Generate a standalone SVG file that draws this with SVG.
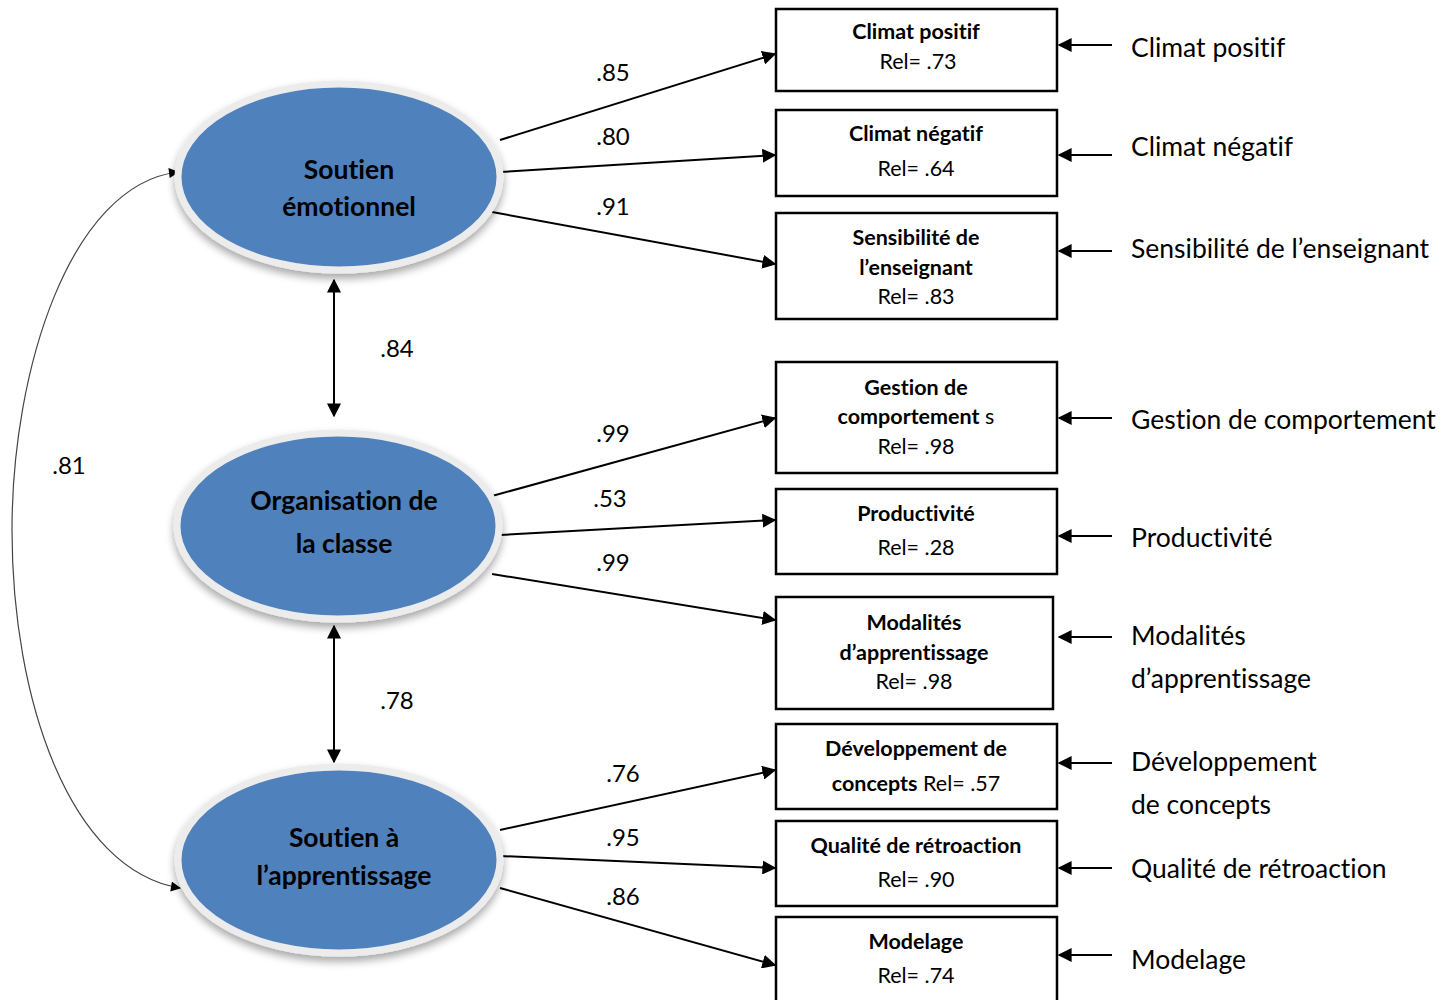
<svg xmlns="http://www.w3.org/2000/svg" width="1451" height="1000" viewBox="0 0 1451 1000">
<defs>
<style>
text{font-family:Lato,"Open Sans","Liberation Sans",sans-serif;fill:#000;font-variant-ligatures:none}
.lat{fill:#4F81BD;stroke:#ececec;stroke-width:7}
.lt{font-size:26.5px;font-weight:bold;text-anchor:middle}
.box{fill:#fff;stroke:#000;stroke-width:2.5}
.bt{font-size:21.5px;font-weight:bold;text-anchor:middle}
.br{font-weight:normal}
.coef{font-size:24px}
.side{font-size:26.5px}
.ln{stroke:#000;stroke-width:2;fill:none}
.cv{stroke:#444;stroke-width:1.2;fill:none}
</style>
<marker id="ah" viewBox="0 0 10 10" refX="9" refY="5" markerWidth="11" markerHeight="10" markerUnits="userSpaceOnUse" orient="auto-start-reverse"><path d="M0,0 L10,5 L0,10 z" fill="#000"/></marker>
<marker id="ahb" viewBox="0 0 10 10" refX="9" refY="5" markerWidth="14" markerHeight="14" markerUnits="userSpaceOnUse" orient="auto-start-reverse"><path d="M0,0 L10,5 L0,10 z" fill="#000"/></marker>
<filter id="sh" x="-20%" y="-20%" width="140%" height="150%"><feGaussianBlur in="SourceAlpha" stdDeviation="4"/><feOffset dy="5" result="b"/><feComponentTransfer><feFuncA type="linear" slope="0.35"/></feComponentTransfer><feMerge><feMergeNode/><feMergeNode in="SourceGraphic"/></feMerge></filter>
</defs>
<rect width="1451" height="1000" fill="#fff"/>

<g id="connectors">
<line class="ln" x1="500" y1="140" x2="775" y2="54" marker-end="url(#ahb)"/>
<line class="ln" x1="500" y1="172" x2="775" y2="155" marker-end="url(#ahb)"/>
<line class="ln" x1="492" y1="212" x2="775" y2="264" marker-end="url(#ahb)"/>
<line class="ln" x1="492" y1="496" x2="775" y2="418" marker-end="url(#ahb)"/>
<line class="ln" x1="500" y1="535" x2="775" y2="520" marker-end="url(#ahb)"/>
<line class="ln" x1="492" y1="574" x2="775" y2="620" marker-end="url(#ahb)"/>
<line class="ln" x1="500" y1="830" x2="775" y2="770" marker-end="url(#ahb)"/>
<line class="ln" x1="500" y1="856" x2="775" y2="868" marker-end="url(#ahb)"/>
<line class="ln" x1="500" y1="888" x2="775" y2="965" marker-end="url(#ahb)"/>
<line class="ln" x1="334" y1="280" x2="334" y2="416" marker-start="url(#ahb)" marker-end="url(#ahb)"/>
<line class="ln" x1="334" y1="626" x2="334" y2="762" marker-start="url(#ahb)" marker-end="url(#ahb)"/>
<path class="cv" d="M178,172 C70,185 12,370 12,530 C12,700 70,870 180,888" marker-start="url(#ah)" marker-end="url(#ah)"/>
<line class="ln" x1="1112" y1="45" x2="1059" y2="45" marker-end="url(#ahb)"/>
<line class="ln" x1="1112" y1="155" x2="1059" y2="155" marker-end="url(#ahb)"/>
<line class="ln" x1="1112" y1="251" x2="1059" y2="251" marker-end="url(#ahb)"/>
<line class="ln" x1="1112" y1="418" x2="1059" y2="418" marker-end="url(#ahb)"/>
<line class="ln" x1="1112" y1="536" x2="1059" y2="536" marker-end="url(#ahb)"/>
<line class="ln" x1="1112" y1="637" x2="1059" y2="637" marker-end="url(#ahb)"/>
<line class="ln" x1="1112" y1="763" x2="1059" y2="763" marker-end="url(#ahb)"/>
<line class="ln" x1="1112" y1="868" x2="1059" y2="868" marker-end="url(#ahb)"/>
<line class="ln" x1="1112" y1="955" x2="1059" y2="955" marker-end="url(#ahb)"/>
<text class="coef" x="613" y="81" text-anchor="middle">.85</text>
<text class="coef" x="613" y="145" text-anchor="middle">.80</text>
<text class="coef" x="613" y="215" text-anchor="middle">.91</text>
<text class="coef" x="613" y="442" text-anchor="middle">.99</text>
<text class="coef" x="610" y="507" text-anchor="middle">.53</text>
<text class="coef" x="613" y="571" text-anchor="middle">.99</text>
<text class="coef" x="623" y="782" text-anchor="middle">.76</text>
<text class="coef" x="623" y="846" text-anchor="middle">.95</text>
<text class="coef" x="623" y="905" text-anchor="middle">.86</text>
<text class="coef" x="397" y="357" text-anchor="middle">.84</text>
<text class="coef" x="397" y="709" text-anchor="middle">.78</text>
<text class="coef" x="69" y="474" text-anchor="middle">.81</text>
</g>

<g id="n-soutien-emo">
<ellipse class="lat" cx="339" cy="177" rx="161" ry="93" filter="url(#sh)"/>
<text class="lt" x="349" y="179">Soutien</text>
<text class="lt" x="349" y="216">émotionnel</text>
</g>
<g id="n-organisation">
<ellipse class="lat" cx="338" cy="526" rx="161" ry="93" filter="url(#sh)"/>
<text class="lt" x="344" y="510">Organisation de</text>
<text class="lt" x="344" y="553">la classe</text>
</g>
<g id="n-soutien-app">
<ellipse class="lat" cx="339" cy="860" rx="161" ry="93" filter="url(#sh)"/>
<text class="lt" x="344" y="847">Soutien à</text>
<text class="lt" x="344" y="885">l’apprentissage</text>
</g>

<g id="n-climat-pos">
<rect class="box" x="776" y="9" width="281" height="82"/>
<text class="bt" x="916" y="39">Climat positif</text>
<text class="bt br" x="918" y="69">Rel= .73</text>
</g>
<g id="n-climat-neg">
<rect class="box" x="776" y="110" width="281" height="86"/>
<text class="bt" x="916" y="141">Climat négatif</text>
<text class="bt br" x="916" y="176">Rel= .64</text>
</g>
<g id="n-sensibilite">
<rect class="box" x="776" y="213" width="281" height="106"/>
<text class="bt" x="916" y="245">Sensibilité de</text>
<text class="bt" x="916" y="275">l’enseignant</text>
<text class="bt br" x="916" y="304">Rel= .83</text>
</g>
<g id="n-gestion">
<rect class="box" x="776" y="362" width="281" height="111"/>
<text class="bt" x="916" y="395">Gestion de</text>
<text class="bt" x="916" y="424">comportement<tspan class="br"> s</tspan></text>
<text class="bt br" x="916" y="454">Rel= .98</text>
</g>
<g id="n-productivite">
<rect class="box" x="776" y="489" width="281" height="85"/>
<text class="bt" x="916" y="521">Productivité</text>
<text class="bt br" x="916" y="555">Rel= .28</text>
</g>
<g id="n-modalites">
<rect class="box" x="776" y="597" width="277" height="112"/>
<text class="bt" x="914" y="630">Modalités</text>
<text class="bt" x="914" y="660">d’apprentissage</text>
<text class="bt br" x="914" y="689">Rel= .98</text>
</g>
<g id="n-developpement">
<rect class="box" x="776" y="724" width="281" height="85"/>
<text class="bt" x="916" y="756">Développement de</text>
<text class="bt" x="916" y="791">concepts<tspan class="br"> Rel= .57</tspan></text>
</g>
<g id="n-qualite">
<rect class="box" x="776" y="821" width="281" height="85"/>
<text class="bt" x="916" y="853">Qualité de rétroaction</text>
<text class="bt br" x="916" y="887">Rel= .90</text>
</g>
<g id="n-modelage">
<rect class="box" x="776" y="917" width="281" height="90"/>
<text class="bt" x="916" y="949">Modelage</text>
<text class="bt br" x="916" y="983">Rel= .74</text>
</g>

<g id="side-labels">
<text class="side" x="1131" y="57">Climat positif</text>
<text class="side" x="1131" y="156">Climat négatif</text>
<text class="side" x="1131" y="258">Sensibilité de l’enseignant</text>
<text class="side" x="1131" y="429">Gestion de comportement</text>
<text class="side" x="1131" y="547">Productivité</text>
<text class="side" x="1131" y="645">Modalités</text>
<text class="side" x="1131" y="688">d’apprentissage</text>
<text class="side" x="1131" y="771">Développement</text>
<text class="side" x="1131" y="814">de concepts</text>
<text class="side" x="1131" y="878">Qualité de rétroaction</text>
<text class="side" x="1131" y="969">Modelage</text>
</g>
</svg>
